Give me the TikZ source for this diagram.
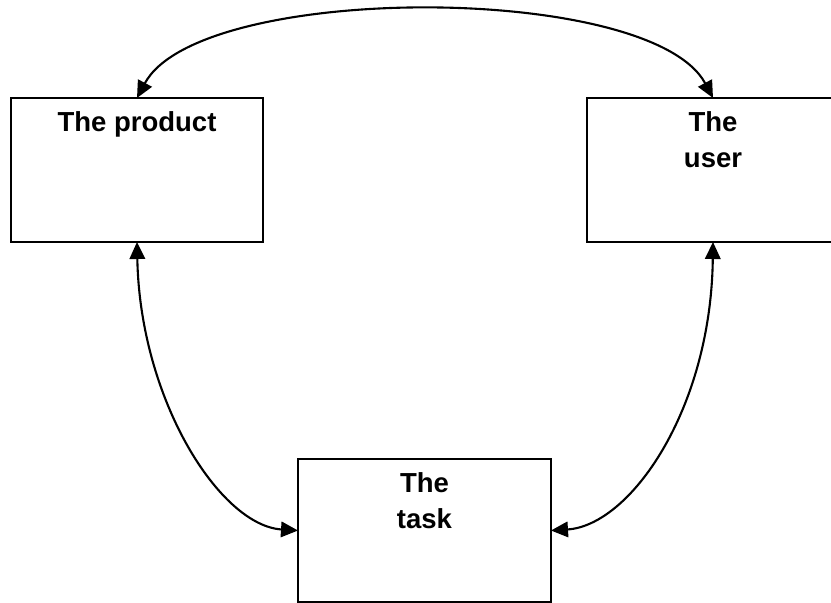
\documentclass[tikz,border=0pt]{standalone}
\usepackage{fontspec}
\setmainfont{Liberation Sans}
\usetikzlibrary{arrows.meta}

\tikzset{
  box/.style={draw=black, line width=2.6pt, rectangle, inner sep=0pt, outer sep=0pt,
    minimum width=252pt, minimum height=144pt},
  boxtext/.style={font=\bfseries\fontsize{27.5}{36}\selectfont, align=center,
    anchor=north, inner sep=0pt, yshift=-13.5pt},
  link/.style={line width=2.1pt, {Triangle[length=17pt,width=15.5pt]}-{Triangle[length=17pt,width=15.5pt]}}
}

\begin{document}
\begin{tikzpicture}[x=1pt, y=-1pt]
  \useasboundingbox (0,0) rectangle (831,603);
  \fill[white] (0,0) rectangle (831,603);
  \clip (0,0) rectangle (831,603);

  % the three boxes, each with its title at the top
  \node[box, label={[boxtext]north:The product}] (product) at (137,170) {};
  \node[box, label={[boxtext]north:The\\user}] (user) at (713,170) {};
  \node[box, minimum width=253pt, minimum height=143pt,
        label={[boxtext]north:The\\task}] (task) at (424.5,530.5) {};

  % two-way links between the boxes
  \draw[link] (product.north) .. controls +(62,-116) and +(-62,-116) .. (user.north);
  \draw[link] (product.south) .. controls +(3,158) and +(-78,-5) .. (task.west);
  \draw[link] (user.south) .. controls +(-2,168) and +(79,-5) .. (task.east);
\end{tikzpicture}
\end{document}
